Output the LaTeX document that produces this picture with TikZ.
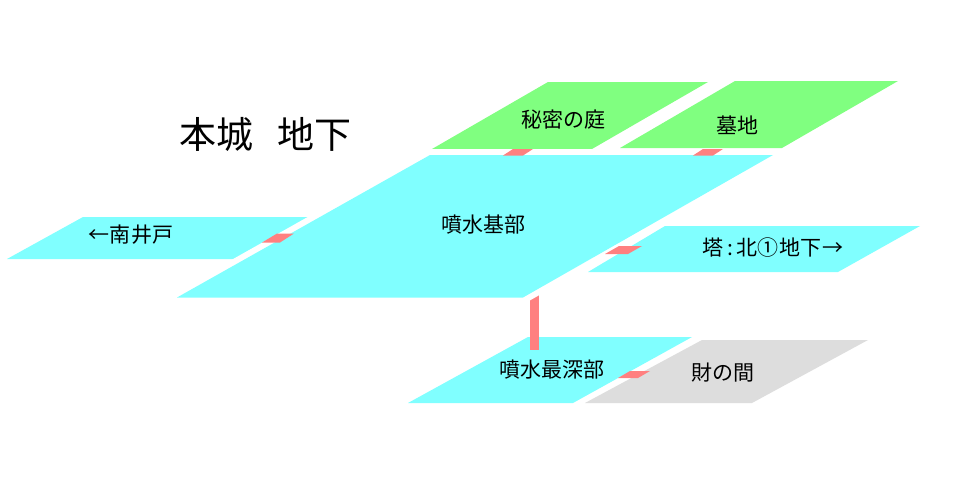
\documentclass[tikz,border=0pt]{standalone}
\usepackage{fontspec}
\setmainfont{Noto Sans CJK JP}
\definecolor{cyanp}{HTML}{80FFFF}
\definecolor{greenp}{HTML}{80FF80}
\definecolor{grayp}{HTML}{DDDDDD}
\definecolor{pinkp}{HTML}{FF8080}
\newcommand{\fw}[1]{\makebox[21.5pt]{#1}}
\tikzset{
  lbl/.style={font=\fontsize{21}{21}\selectfont, inner sep=0pt, text=black},
  ttl/.style={font=\fontsize{37}{37}\selectfont, inner sep=0pt, text=black},
  halo/.style={draw=white, line width=12pt, line join=miter},
  corridor/.style={fill=pinkp}
}
\begin{document}
\begin{tikzpicture}[x=1pt,y=-1pt]
\useasboundingbox[fill=white] (0,0) rectangle (954,493);
% title
\node[ttl] (t1) at (216,134.5) {本城};
\node[ttl] (t2) at (314.5,134.5) {地下};
% side panels under main
\fill[cyanp] (7,259) -- (310,259) -- (386,217) -- (83,217) -- cycle;
\fill[cyanp] (588,272) -- (838,272) -- (920,226) -- (665,226) -- cycle;
% green panels
\fill[greenp] (432,149) -- (592,149) -- (708,82) -- (548,82) -- cycle;
\fill[greenp] (620,148) -- (782,148) -- (898,81) -- (735,81) -- cycle;
% deepest and treasure
\fill[cyanp] (408,403) -- (573,403) -- (692,337) -- (528,337) -- cycle;
\fill[grayp] (585,403) -- (752,403) -- (868,340) -- (702,340) -- cycle;
% vertical shaft
\fill[corridor] (530,285) rectangle (539,350);
% main panel
\draw[halo] (177,297.5) -- (523,297.5) -- (773,155) -- (430,155) -- cycle;
\fill[cyanp] (177,297.5) -- (523,297.5) -- (773,155) -- (430,155) -- cycle;
% corridors
\fill[corridor] (262,242.5) -- (280,242.5) -- (294,233.5) -- (277,233.5) -- cycle;
\fill[corridor] (503,155.5) -- (523,155.5) -- (533,149) -- (513,149) -- cycle;
\fill[corridor] (693,155.5) -- (713,155.5) -- (723,149) -- (703,149) -- cycle;
\fill[corridor] (605,254) -- (628,254) -- (642,246) -- (619,246) -- cycle;
\fill[corridor] (618,378) -- (638,378) -- (650,371) -- (630,371) -- cycle;
% labels
\node[lbl] (base) at (483,225) {噴水基部};
\node[lbl] (garden) at (563,120) {秘密の庭};
\node[lbl] (grave) at (737,125) {墓地};
\node[lbl] (tower) at (773,248) {\fw{塔}\makebox[12pt]{:}\fw{北}\fw{①}\fw{地}\fw{下}\fw{→}};
\node[lbl] (well) at (131,235) {\fw{←}\fw{南}\fw{井}\fw{戸}};
\node[lbl] (deep) at (552,370) {噴水最深部};
\node[lbl] (treasure) at (723,373) {財の間};
\end{tikzpicture}
\end{document}
